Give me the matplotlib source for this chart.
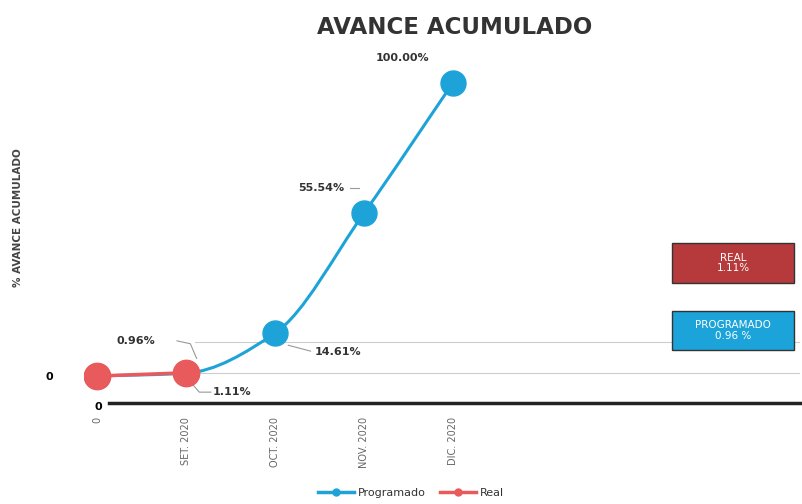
import numpy as np
import matplotlib
matplotlib.use("Agg")
from matplotlib import pyplot as plt
from matplotlib.path import Path
from matplotlib.patches import PathPatch, FancyBboxPatch
from matplotlib.lines import Line2D

# datos
meses = ["0", "SET. 2020", "OCT. 2020", "NOV. 2020", "DIC. 2020"]
programado = [0, 0.96, 14.61, 55.54, 100.00]
real = [0, 1.11]
etiquetas_prog = ["", "0.96%", "14.61%", "55.54%", "100.00%"]
etiquetas_real = ["", "1.11%"]

AZUL = "#1ea3d8"
ROJO = "#e85a5c"


def curva_suave(x, y):
    """Path bezier monotona (Fritsch-Carlson) que pasa por los puntos"""
    x = np.asarray(x, float)
    y = np.asarray(y, float)
    h = np.diff(x)
    d = np.diff(y) / h
    m = np.zeros_like(y)
    m[0], m[-1] = d[0], d[-1]
    for k in range(1, len(y) - 1):
        if d[k - 1] * d[k] > 0:
            m[k] = 2.0 / (1.0 / d[k - 1] + 1.0 / d[k])
    verts = [(x[0], y[0])]
    codes = [Path.MOVETO]
    for i in range(len(x) - 1):
        verts += [(x[i] + h[i] / 3, y[i] + m[i] * h[i] / 3),
                  (x[i + 1] - h[i] / 3, y[i + 1] - m[i + 1] * h[i] / 3),
                  (x[i + 1], y[i + 1])]
        codes += [Path.CURVE4] * 3
    return Path(verts, codes)


fig = plt.figure(figsize=(8.02, 5.04), dpi=100)
ax = fig.add_axes([83.6 / 802, 101 / 504, (800 - 83.6) / 802, (403 - 60) / 504])
ax.set_xlim(-0.15, 7.9)
ax.set_ylim(-9.2, 107.8)

x = np.arange(len(meses))

# lineas guia grises
ax.plot([1.1, 7.9], [11.5, 11.5], color="#cccccc", lw=0.8, zorder=1)
ax.plot([1.1, 7.9], [1.2, 1.2], color="#cccccc", lw=0.8, zorder=1)

# programado
ax.add_patch(PathPatch(curva_suave(x, programado), fill=False, edgecolor=AZUL, lw=2.2, zorder=2))
ax.plot(x, programado, "o", color=AZUL, markersize=18, zorder=3)

# real
ax.plot(x[:len(real)], real, "-", color=ROJO, lw=2.5, zorder=4)
ax.plot(x[:len(real)], real, "o", color=ROJO, markersize=19, zorder=5)

# etiquetas de datos
fs = 8
c = "#333333"
ax.text(3.74, 108.5, etiquetas_prog[4], fontsize=fs, fontweight="bold", ha="right", va="center", color=c)
ax.plot([3.8, 3.9], [108.5, 108.5], color="#999999", lw=0.8)
ax.text(2.78, 64, etiquetas_prog[3], fontsize=fs, fontweight="bold", ha="right", va="center", color=c)
ax.plot([2.84, 2.94], [64, 64], color="#999999", lw=0.8)
ax.text(2.45, 8.3, etiquetas_prog[2], fontsize=fs, fontweight="bold", ha="left", va="center", color=c)
ax.plot([2.15, 2.4], [10.5, 8.5], color="#999999", lw=0.8)
ax.text(0.22, 12, etiquetas_prog[1], fontsize=fs, fontweight="bold", ha="left", va="center", color=c)
ax.plot([0.9, 1.05, 1.12], [12, 11, 6], color="#999999", lw=0.8)
ax.text(1.3, -5.5, etiquetas_real[1], fontsize=fs, fontweight="bold", ha="left", va="center", color=c)
ax.plot([1.05, 1.15, 1.28], [-2, -5.5, -5.5], color="#999999", lw=0.8)

# ejes
for s in ["top", "right", "left"]:
    ax.spines[s].set_visible(False)
ax.spines["bottom"].set_linewidth(2.5)
ax.spines["bottom"].set_color("#222222")
ax.spines["bottom"].set_bounds(0.13, 7.9)
ax.set_yticks([0])
ax.set_yticklabels(["0"], fontsize=8, fontweight="bold")
ax.tick_params(axis="y", length=0, pad=22)
ax.set_xticks(x)
ax.set_xticklabels(meses, rotation=90, fontsize=7, color="#666666", va="top")
ax.tick_params(axis="x", length=0, pad=10)
ax.text(0.02, -10.5, "0", fontsize=8, fontweight="bold", ha="center", va="center")

fig.text(18 / 802, 1 - 218 / 504, "% AVANCE ACUMULADO", rotation=90, fontsize=7.5, fontweight="bold",
         ha="center", va="center", color="#444444")
fig.text(455 / 802, 1 - 28 / 504, "AVANCE ACUMULADO", fontsize=16.5, fontweight="bold",
         ha="center", va="center", color="#333333")

# cuadros
def cuadro(x0, y0, w, h, color, texto):
    fig.patches.append(FancyBboxPatch((x0 / 802, 1 - (y0 + h) / 504), w / 802, h / 504,
                                      boxstyle="square,pad=0", facecolor=color, edgecolor="#333333",
                                      lw=1.0, transform=fig.transFigure, figure=fig))
    fig.text((x0 + w / 2) / 802, 1 - (y0 + h / 2) / 504, texto, color="white", fontsize=7.5,
             ha="center", va="center", linespacing=1.1)

cuadro(672, 243, 122, 40, "#b63a3c", "REAL\n1.11%")
cuadro(672, 311, 122, 39, "#1ba3da", "PROGRAMADO\n0.96 %")

# leyenda dibujada a mano
ly = 1 - 492 / 504
for col, nombre, x0 in [(AZUL, "Programado", 318), (ROJO, "Real", 440)]:
    fig.add_artist(Line2D([x0 / 802, (x0 + 36) / 802], [ly, ly], color=col, lw=2.5,
                          transform=fig.transFigure))
    fig.add_artist(Line2D([(x0 + 18) / 802], [ly], color=col, marker="o", markersize=5,
                          transform=fig.transFigure))
    fig.text((x0 + 40) / 802, ly - 3.5 / 504, nombre, fontsize=8, ha="left", va="baseline",
             color="#333333")

fig.savefig("out.png", dpi=100)
